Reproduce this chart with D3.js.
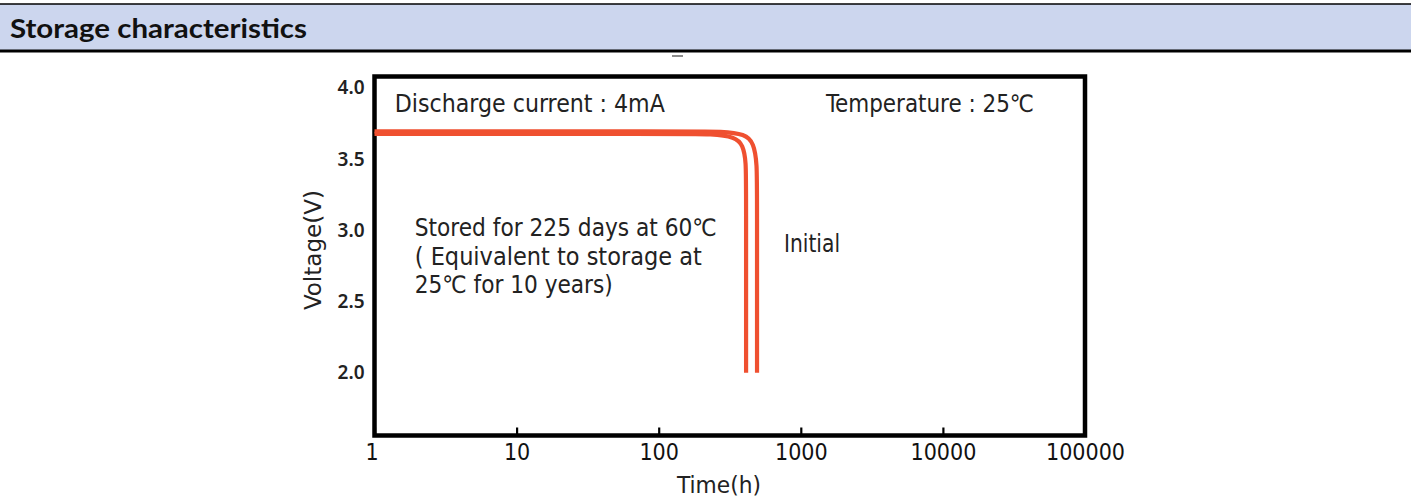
<!DOCTYPE html>
<html>
<head>
<meta charset="utf-8">
<script src="https://cdn.jsdelivr.net/npm/d3@7"></script>
<style>
	body { margin: 0; background: #fff; }
	.narrow { font-family: "Liberation Sans Narrow", "DejaVu Sans Condensed", "DejaVu Sans", sans-serif; font-stretch: condensed; }
</style>
</head>
<body>
<svg id="chart" width="1411" height="502"></svg>
<script>
// axis ticks
var timeTicks = [1, 10, 100, 1000, 10000, 100000];
var voltTicks = [2.0, 2.5, 3.0, 3.5, 4.0];

// Initial (outer curve)
var initialTime = [1, 166, 279, 405, 467, 492, 492, 492];
var initialVolt = [3.695, 3.695, 3.695, 3.676, 3.614, 3.466, 3.249, 2.0];

// Stored for 225 days at 60C (inner curve)
var storedTime = [1, 141, 237, 344, 392, 412, 412, 412];
var storedVolt = [3.677, 3.677, 3.677, 3.656, 3.6, 3.48, 3.284, 2.0];

// notes written in the plot
var notes = [
	{text: "Discharge current : 4mA", t: 1.39, v: 3.831, len: 270},
	{text: "Temperature : 25\u2103", t: 1504, v: 3.831, len: 208},
	{text: "Stored for 225 days at 60\u2103", t: 1.92, v: 2.961, len: 302},
	{text: "( Equivalent to storage at", t: 1.92, v: 2.757, len: 287},
	{text: "25\u2103 for 10 years)", t: 1.92, v: 2.56, len: 198},
	{text: "Initial", t: 762, v: 2.848, len: 56}
];

var svg = d3.select("#chart");
var W = 1411;

// header band
svg.append("rect").attr("x", 0).attr("y", 4).attr("width", W).attr("height", 46).attr("fill", "#ccd6ee");
svg.append("line").attr("x1", 0).attr("x2", W).attr("y1", 4).attr("y2", 4).attr("stroke", "#000").attr("stroke-width", 1.5);
svg.append("line").attr("x1", 0).attr("x2", W).attr("y1", 51).attr("y2", 51).attr("stroke", "#000").attr("stroke-width", 3);
svg.append("text").attr("x", 10).attr("y", 38)
	.attr("textLength", 297).attr("lengthAdjust", "spacingAndGlyphs")
	.style("font-family", "Lato, 'Open Sans', sans-serif").style("font-weight", "bold").style("font-size", "27px")
	.attr("fill", "#111").text("Storage characteristics");
// cropped bit of a caption just under the band
svg.append("line").attr("x1", 672).attr("x2", 683).attr("y1", 56).attr("y2", 56).attr("stroke", "#666").attr("stroke-width", 1.5);

var x = d3.scaleLog().domain([1, 100000]).range([374.5, 1085]);
var y = d3.scaleLinear().domain([1.56, 4.08]).range([435.5, 76.5]);

// x axis
var xAxis = svg.append("g").attr("transform", "translate(0,435.5)")
	.call(d3.axisBottom(x).tickValues(timeTicks).tickFormat(d3.format("d")).tickSize(-8).tickPadding(8));
xAxis.select(".domain").remove();
xAxis.selectAll("line").attr("stroke", "#000").attr("stroke-width", 2.2);
xAxis.selectAll("text").attr("class", "narrow").style("font-size", "23px").attr("fill", "#111");
xAxis.selectAll(".tick").filter(function(d){ return d == 1; }).select("text").attr("dx", "-3");

// y axis
var yAxis = svg.append("g").attr("transform", "translate(374.5,0)")
	.call(d3.axisLeft(y).tickValues(voltTicks).tickFormat(d3.format(".1f")).tickSize(0).tickPadding(10));
yAxis.select(".domain").remove();
yAxis.selectAll("text").style("font-family", "'Noto Sans', sans-serif").style("font-weight", "600")
	.style("font-size", "19px").attr("fill", "#222");

// frame
svg.append("rect")
	.attr("x", x(1)).attr("y", y(4.08))
	.attr("width", x(100000) - x(1)).attr("height", y(1.56) - y(4.08))
	.attr("fill", "none").attr("stroke", "#000").attr("stroke-width", 4.5);

// curves
var line = d3.line()
	.x(function(d){ return x(d[0]); })
	.y(function(d){ return y(d[1]); })
	.curve(d3.curveBasis);
var series = [d3.zip(initialTime, initialVolt), d3.zip(storedTime, storedVolt)];
svg.selectAll(".curve").data(series).enter().append("path")
	.attr("class", "curve")
	.attr("d", line)
	.attr("fill", "none").attr("stroke", "#ef5030").attr("stroke-width", 4.2);

// notes
svg.selectAll(".note").data(notes).enter().append("text")
	.attr("class", "note narrow")
	.attr("x", function(d){ return x(d.t); })
	.attr("y", function(d){ return y(d.v); })
	.attr("textLength", function(d){ return d.len; })
	.attr("lengthAdjust", "spacingAndGlyphs")
	.style("font-size", "24px").attr("fill", "#222")
	.text(function(d){ return d.text; });

// axis titles
svg.append("text").attr("class", "narrow")
	.attr("x", 719).attr("y", 493).attr("text-anchor", "middle")
	.attr("textLength", 84).attr("lengthAdjust", "spacingAndGlyphs")
	.style("font-size", "23px").attr("fill", "#222").text("Time(h)");
svg.append("text").attr("class", "narrow")
	.attr("transform", "translate(321,250) rotate(-90)").attr("text-anchor", "middle")
	.attr("textLength", 120).attr("lengthAdjust", "spacingAndGlyphs")
	.style("font-size", "23px").attr("fill", "#222").text("Voltage(V)");
</script>
</body>
</html>
